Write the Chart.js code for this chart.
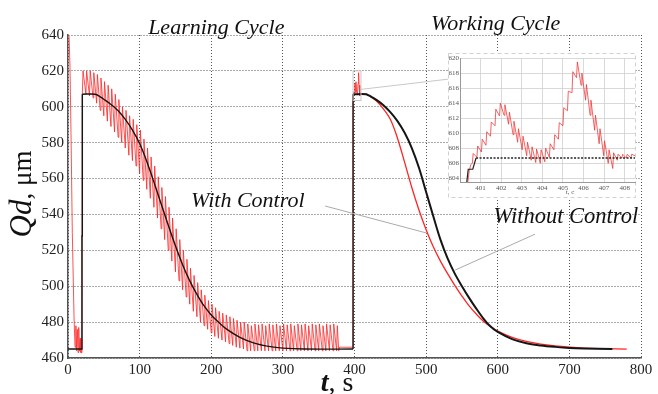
<!DOCTYPE html>
<html>
<head>
<meta charset="utf-8">
<script src="https://cdn.jsdelivr.net/npm/chart.js"></script>
<style>
  body { margin: 0; background: #fff; }
  #wrap { position: relative; width: 658px; height: 394px; }
  #main { position: absolute; left: 0; top: 0; }
  #inset { position: absolute; left: 448px; top: 53px; }
</style>
</head>
<body>
<div id="wrap">
  <canvas id="main" width="658" height="394"></canvas>
  <canvas id="inset" width="188" height="145"></canvas>
</div>
<script>
const SERIF = '"Liberation Serif", "DejaVu Serif", serif';

// tick labels
const xTicks = [0, 100, 200, 300, 400, 500, 600, 700, 800];
const yTicks = [460, 480, 500, 520, 540, 560, 580, 600, 620, 640];
const insetXTicks = [401, 402, 403, 404, 405, 406, 407, 408];
const insetYTicks = [604, 606, 608, 610, 612, 614, 616, 618, 620];

// without control (black)
const blackStepT = [0, 19.5, 19.5, 20, 20];
const blackStepQ = [465, 465, 528, 528, 607];
const blackLearnT = [20, 38, 45, 50, 60, 70, 80, 90, 100, 110, 120, 130, 140, 150, 160, 170, 180, 190, 200, 210, 220, 240, 260, 280, 300, 330, 398];
const blackLearnQ = [607, 607, 605.5, 604.2, 601.3, 597.8, 593, 587, 579.5, 569.5, 558, 546, 534, 522.5, 512, 503, 495.5, 489, 484, 480, 476.5, 471.5, 468.3, 466.5, 465.5, 465, 465];
const blackJumpT = [398, 398];
const blackJumpQ = [465, 607];
const blackWorkT = [398, 416, 420, 425, 430, 440, 450, 460, 470, 480, 490, 500, 510, 520, 530, 540, 550, 560, 570, 580, 590, 600, 620, 640, 660, 680, 700, 720, 760];
const blackWorkQ = [607, 607, 606.3, 605.2, 604, 601, 597, 592, 585.5, 577, 566, 552.5, 539, 526, 515.5, 507, 500, 493.5, 487.5, 482, 477.5, 474.5, 470.5, 468.2, 467, 466.2, 465.6, 465.3, 465];

// with control (red), learning cycle: start, teeth, tail, then the spikes at 400 s
const redStartT = [0, 1.5, 2.8, 4.2, 6, 8.4, 9.8, 11, 12, 13, 14, 15, 16, 17, 18, 19.5];
const redStartQ = [640, 639, 622, 585, 530, 483, 466, 478, 464, 476, 463, 477, 464, 471, 463, 463];
const toothT = [20, 25, 30, 35, 40, 45, 50, 55, 60, 65,
  70, 75, 80, 85, 90, 95, 100, 105, 110, 115,
  120, 125, 130, 135, 140, 145, 150, 155, 160, 165,
  170, 175, 180, 185, 190, 195, 200, 205, 210, 215,
  220, 225, 230, 235, 240, 245, 250, 255, 260, 265,
  270, 275, 280, 285, 290, 295, 300, 305, 310, 315,
  320, 325, 330, 335, 340, 345, 350, 355, 360, 365,
  370, 375];
const toothHi = [620, 620, 620, 619, 618, 616, 614, 612, 610, 607,
  604, 600, 598, 595, 593, 590, 587, 582, 577, 572,
  567, 561, 555, 550, 544, 538, 532, 526, 520, 515,
  510, 506, 502, 498, 495, 492, 490, 488, 486, 485,
  484, 483, 482, 481, 480, 480, 479, 478, 479, 478.5,
  479, 478, 479, 478.5, 479, 478, 479, 478.5, 479, 478,
  479, 478.5, 479, 478, 479, 478.5, 479, 478, 479, 478.5,
  479, 478];
const toothLo = [607, 607, 606, 605, 602, 598, 595, 592, 589, 586,
  583, 580, 577, 573, 570, 567, 563, 559, 554, 549,
  544, 538, 532, 526, 520, 514, 508, 503, 498, 494,
  490, 486, 483, 480, 478, 476, 474, 472, 471, 470,
  469, 468, 467, 466, 465.5, 465, 464, 464, 464, 464,
  464, 464, 464, 464, 464, 464, 464, 464, 464, 464,
  464, 464, 464, 464, 464, 464, 464, 464, 464, 464,
  464, 464];
const redTailT = [378, 379, 398, 398, 400, 400.6, 401.2, 402, 403, 404, 405, 405.7, 406.5, 407.5, 408.5];
const redTailQ = [464, 466, 466, 607, 609, 613, 608, 614, 608, 607, 613, 619, 612, 606, 607];

// with control (red), working cycle
const redWorkT = [408.5, 416, 420, 430, 440, 450, 460, 470, 480, 490, 500, 510, 520, 530, 540, 550, 560, 570, 580, 590, 600, 620, 640, 660, 680, 700, 720, 750, 780];
const redWorkQ = [607, 607, 606.3, 603.5, 599, 593, 582.5, 569, 555, 542.5, 531.5, 522, 514, 507, 500.5, 494.5, 489, 484.5, 480.5, 477.5, 475, 471.5, 469.2, 467.7, 466.7, 466, 465.5, 465.2, 465];

// inset (zoom of 400..408.5 s)
const insetBlackT = [400.33, 400.40, 400.62, 400.78];
const insetBlackQ = [603.5, 605.2, 605.2, 606.7];
const insetBlackFlatT = [400.78, 408.5];
const insetBlackFlatQ = [606.7, 606.7];
const insetRedStartT = [400.38, 400.45, 400.52];
const insetRedStartQ = [603.5, 605.0, 605.8];
const insetToothT = [400.60, 400.82, 401.04, 401.26, 401.48, 401.70, 401.92, 402.14, 402.36, 402.58,
  402.80, 403.02, 403.24, 403.46, 403.68, 403.90, 404.12, 404.34, 404.56, 404.78,
  405.00, 405.22, 405.44, 405.66, 405.88, 406.10, 406.32, 406.54, 406.76, 406.98,
  407.20, 407.42, 407.64, 407.86, 408.08, 408.30];
const insetToothLo = [606.0, 606.8, 607.5, 608.4, 609.6, 611.0, 612.3, 612.4, 611.2, 609.8,
  608.8, 607.8, 607.0, 606.4, 606.1, 606.0, 606.2, 606.8, 607.8, 609.2,
  611.0, 613.0, 615.4, 617.4, 616.4, 614.4, 612.4, 610.4, 608.6, 607.0,
  606.0, 605.3, 606.4, 606.7, 606.7, 606.7];
const insetToothHi = [607.3, 608.3, 609.2, 610.2, 611.5, 613.2, 614.0, 613.8, 612.8, 611.6,
  610.6, 609.6, 608.8, 608.2, 607.9, 607.8, 608.0, 608.6, 609.8, 611.4,
  613.4, 615.6, 618.2, 619.5, 618.0, 616.5, 614.4, 612.4, 610.6, 609.0,
  607.8, 607.4, 607.2, 607.2, 607.2, 607.2];
const insetRedEndT = [408.5];
const insetRedEndQ = [607.0];

function pts(ts, qs) { return ts.map((t, i) => ({ x: t, y: qs[i] })); }

function teeth(ts, lo, hi, rise) {
  const out = [];
  ts.forEach((t, i) => { out.push({ x: t, y: lo[i] }, { x: t + rise, y: hi[i] }); });
  return out;
}

const redLearnPts = [].concat(pts(redStartT, redStartQ), teeth(toothT, toothLo, toothHi, 1), pts(redTailT, redTailQ));
const insetRedPts = [].concat(pts(insetRedStartT, insetRedStartQ), teeth(insetToothT, insetToothLo, insetToothHi, 0.04), pts(insetRedEndT, insetRedEndQ));

const BLACK = '#151515', RED = '#ff2424';

const mainText = {
  id: 'mainText',
  afterDraw(chart) {
    const ctx = chart.ctx, xs = chart.scales.x, ys = chart.scales.y;
    const px = t => xs.getPixelForValue(t), py = q => ys.getPixelForValue(q);
    ctx.save();

    // zoom box + connector to inset
    ctx.strokeStyle = '#c8c8c8';
    ctx.lineWidth = 1;
    ctx.strokeRect(px(398), py(620), px(409) - px(398), py(603.5) - py(620));
    ctx.beginPath();
    ctx.moveTo(px(409), py(609.7));
    ctx.lineTo(px(531), py(615.4));
    ctx.stroke();

    // leader lines
    ctx.strokeStyle = '#aaa';
    ctx.beginPath();
    ctx.moveTo(px(359), py(544.7)); ctx.lineTo(px(501), py(529.6));
    ctx.moveTo(px(652), py(529)); ctx.lineTo(px(540.5), py(509));
    ctx.stroke();

    ctx.fillStyle = '#111';
    ctx.textAlign = 'center';
    ctx.textBaseline = 'alphabetic';
    ctx.font = 'italic 22px ' + SERIF;
    ctx.fillText('Learning Cycle', px(207), py(640) - 1);
    ctx.fillText('Working Cycle', px(597), py(642.7));
    ctx.font = 'italic 22px ' + SERIF;
    ctx.fillText('With Control', px(251), py(544.1));
    ctx.font = 'italic 22.5px ' + SERIF;
    ctx.fillText('Without Control', px(695), py(535.2));

    // x title: t, s
    ctx.textAlign = 'left';
    const f1 = 'italic bold 28px ' + SERIF, f2 = '28px ' + SERIF;
    ctx.font = f1; const w1 = ctx.measureText('t').width;
    ctx.font = f2; const w2 = ctx.measureText(', s').width;
    let x0 = 337 - (w1 + w2) / 2;
    ctx.font = f1; ctx.fillText('t', x0, 391);
    ctx.font = f2; ctx.fillText(', s', x0 + w1, 391);

    // y title: Qd, μm
    ctx.translate(31, 194);
    ctx.rotate(-Math.PI / 2);
    const g1 = 'italic 31px ' + SERIF, g2 = '27px ' + SERIF;
    ctx.font = g1; const v1 = ctx.measureText('Qd').width;
    ctx.font = g2; const v2 = ctx.measureText(', μm').width;
    x0 = -(v1 + v2) / 2;
    ctx.font = g1; ctx.fillText('Qd', x0, 0);
    ctx.font = g2; ctx.fillText(', μm', x0 + v1, 0);
    ctx.restore();
  }
};

new Chart(document.getElementById('main'), {
  type: 'line',
  data: {
    datasets: [
      { data: pts(blackStepT, blackStepQ), borderColor: BLACK, borderWidth: 1.4 },
      { data: pts(blackLearnT, blackLearnQ), borderColor: BLACK, borderWidth: 1.4, tension: 0.35 },
      { data: pts(blackJumpT, blackJumpQ), borderColor: BLACK, borderWidth: 1.4 },
      { data: pts(blackWorkT, blackWorkQ), borderColor: BLACK, borderWidth: 2, tension: 0.35 },
      { data: redLearnPts, borderColor: RED, borderWidth: 0.8 },
      { data: pts(redWorkT, redWorkQ), borderColor: RED, borderWidth: 1.3, tension: 0.35 }
    ]
  },
  options: {
    responsive: false,
    animation: false,
    elements: { point: { radius: 0 }, line: { tension: 0 } },
    layout: { padding: { left: 0, top: 35, right: 17, bottom: 0 } },
    plugins: { legend: { display: false }, tooltip: { enabled: false } },
    scales: {
      x: {
        type: 'linear', min: 0, max: 800,
        afterBuildTicks: s => { s.ticks = xTicks.map(v => ({ value: v })); },
        afterFit: s => { s.height = 36; },
        grid: { color: '#555', lineWidth: 1, drawTicks: false },
        border: { display: true, color: '#555', width: 1.5, dash: [1, 2] },
        ticks: { font: { family: SERIF, size: 15 }, color: '#222', padding: 3, maxRotation: 0, autoSkip: false }
      },
      y: {
        type: 'linear', min: 460, max: 640,
        afterBuildTicks: s => { s.ticks = yTicks.map(v => ({ value: v })); },
        afterFit: s => { s.width = 68; },
        grid: { color: '#555', lineWidth: 1, drawTicks: false },
        border: { display: true, color: '#555', width: 1.5, dash: [1, 2] },
        ticks: { font: { family: SERIF, size: 15 }, color: '#222', padding: 4, autoSkip: false }
      }
    }
  },
  plugins: [mainText]
});

const insetFrame = {
  id: 'insetFrame',
  beforeDraw(chart) {
    const ctx = chart.ctx;
    ctx.save();
    ctx.fillStyle = '#fff';
    ctx.fillRect(0, 0, chart.width, chart.height);
    ctx.strokeStyle = '#d0d0d0';
    ctx.setLineDash([4, 3]);
    ctx.lineWidth = 1;
    ctx.strokeRect(0.5, 0.5, chart.width - 1, chart.height - 1);
    ctx.restore();
  },
  afterDraw(chart) {
    const ctx = chart.ctx, xs = chart.scales.x;
    ctx.save();
    ctx.fillStyle = '#555';
    ctx.font = '7px ' + SERIF;
    ctx.textAlign = 'center';
    ctx.fillText('t, c', xs.getPixelForValue(405.35), chart.height - 4);
    ctx.restore();
  }
};

new Chart(document.getElementById('inset'), {
  type: 'line',
  data: {
    datasets: [
      { data: pts(insetBlackT, insetBlackQ), borderColor: '#222', borderWidth: 1.2 },
      { data: pts(insetBlackFlatT, insetBlackFlatQ), borderColor: '#222', borderWidth: 1.6, borderDash: [2, 1.5] },
      { data: insetRedPts, borderColor: 'rgba(240,50,50,0.85)', borderWidth: 0.9 }
    ]
  },
  options: {
    responsive: false,
    animation: false,
    elements: { point: { radius: 0 }, line: { tension: 0 } },
    layout: { padding: { left: 0, top: 3, right: 1, bottom: 0 } },
    plugins: { legend: { display: false }, tooltip: { enabled: false } },
    scales: {
      x: {
        type: 'linear', min: 400, max: 408.5,
        afterBuildTicks: s => { s.ticks = insetXTicks.map(v => ({ value: v })); },
        afterFit: s => { s.height = 16; },
        grid: { color: '#cfcfcf', lineWidth: 0.8, drawTicks: false },
        border: { display: true, color: '#999', width: 1 },
        ticks: { font: { family: SERIF, size: 7 }, color: '#555', padding: 2, maxRotation: 0, autoSkip: false }
      },
      y: {
        type: 'linear', min: 603.5, max: 620,
        afterBuildTicks: s => { s.ticks = insetYTicks.map(v => ({ value: v })); },
        afterFit: s => { s.width = 12; },
        grid: { color: '#cfcfcf', lineWidth: 0.8, drawTicks: false },
        border: { display: true, color: '#999', width: 1 },
        ticks: { font: { family: SERIF, size: 7 }, color: '#555', padding: 1, autoSkip: false }
      }
    }
  },
  plugins: [insetFrame]
});
</script>
</body>
</html>
